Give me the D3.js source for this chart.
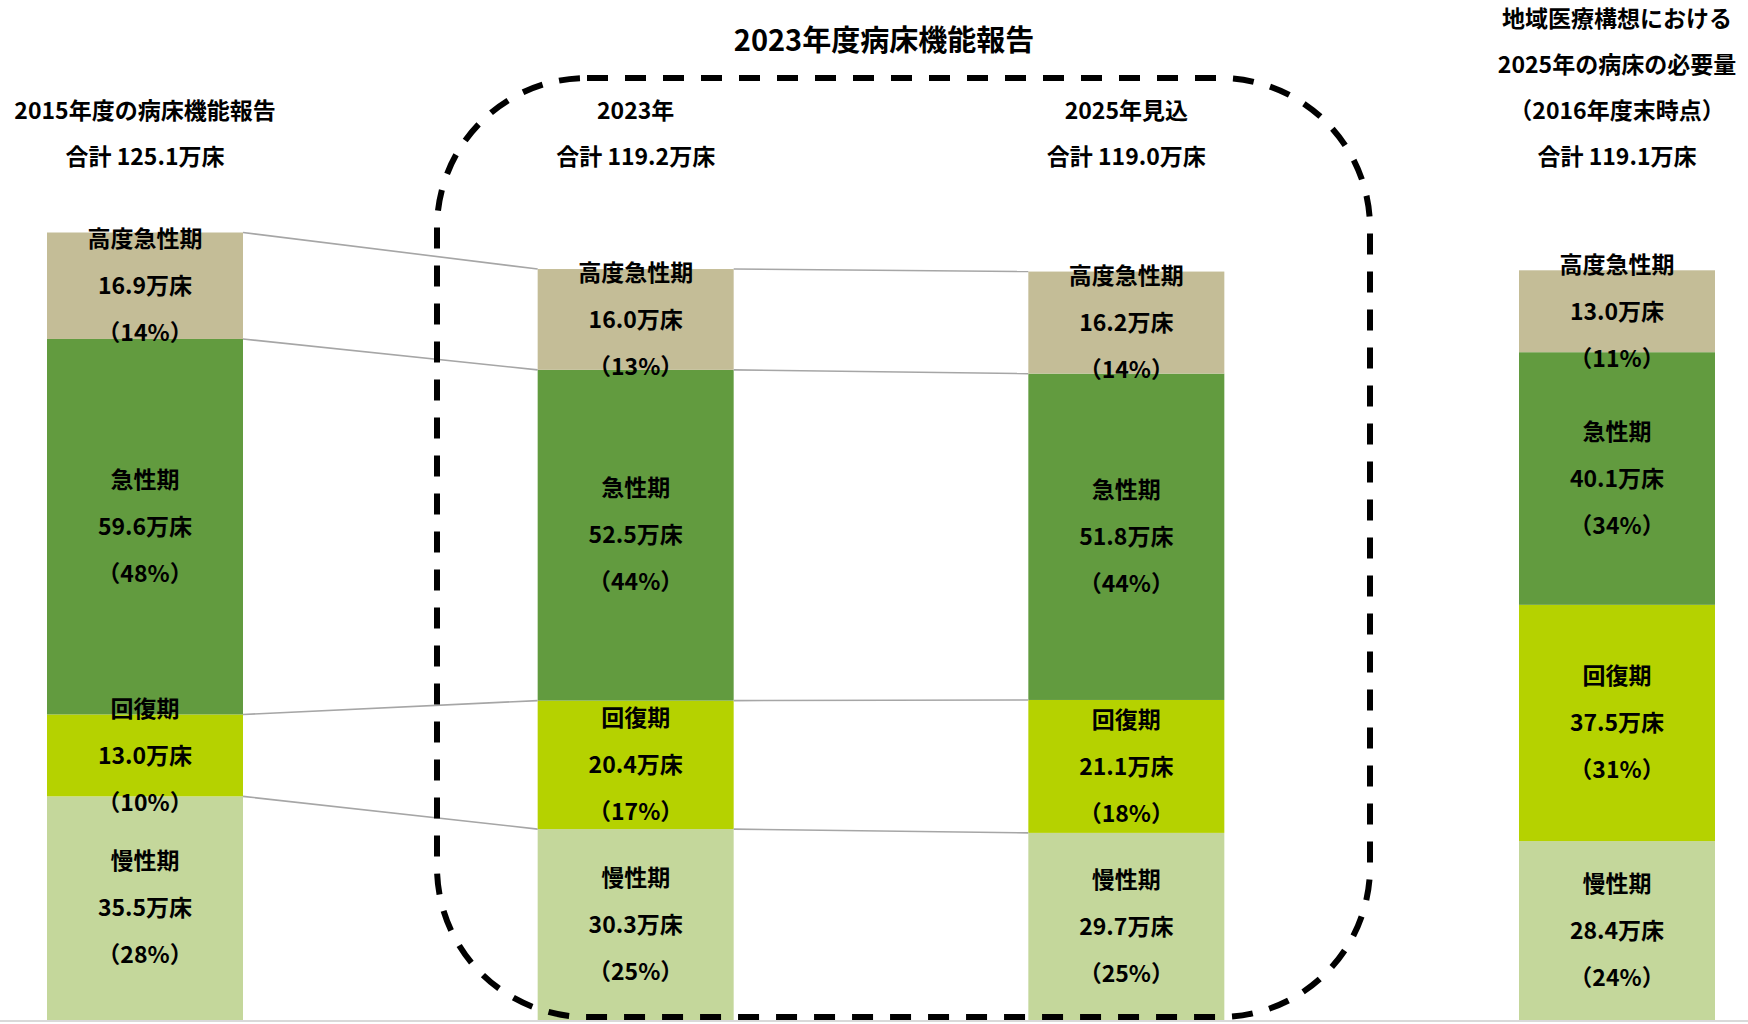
<!DOCTYPE html>
<html><head><meta charset="utf-8">
<script src="https://cdn.jsdelivr.net/npm/d3@7"></script>
<style>
html,body{margin:0;padding:0;background:#fff;}
svg text{font-family:'Noto Sans CJK JP','Noto Sans',sans-serif;font-weight:bold;fill:#000;}
</style></head>
<body><svg id="c" width="1748" height="1024"></svg>
<script>
const columns = ["2015年度", "2023年", "2025年見込", "2025年必要量"];
const categories = ["高度急性期", "急性期", "回復期", "慢性期"];
const highAcute = [16.9, 16.0, 16.2, 13.0];
const acute = [59.6, 52.5, 51.8, 40.1];
const recovery = [13.0, 20.4, 21.1, 37.5];
const chronic = [35.5, 30.3, 29.7, 28.4];
const pctHighAcute = [14, 13, 14, 11];
const pctAcute = [48, 44, 44, 34];
const pctRecovery = [10, 17, 18, 31];
const pctChronic = [28, 25, 25, 24];
const headers = [
  ["2015年度の病床機能報告", "合計 125.1万床"],
  ["2023年", "合計 119.2万床"],
  ["2025年見込", "合計 119.0万床"],
  ["地域医療構想における", "2025年の病床の必要量", "（2016年度末時点）", "合計 119.1万床"]
];
const titleText = "2023年度病床機能報告";
const colors = ["#c4bd97", "#629b3f", "#b5d200", "#c4d79b"];

const seriesVals = [highAcute, acute, recovery, chronic];
const seriesPct = [pctHighAcute, pctAcute, pctRecovery, pctChronic];

const table = columns.map((c, i) => {
  const o = {col: c};
  categories.forEach((k, j) => o[k] = seriesVals[j][i]);
  return o;
});
const stack = d3.stack().keys(categories.slice().reverse());
const stacked = stack(table);

const svg = d3.select("#c");
const x = d3.scalePoint().domain(columns).range([145, 1617]);
const y = d3.scaleLinear().domain([0, 125]).range([1020, 232.5]);
const bw = 196;

// baseline
svg.append("line").attr("x1", 0).attr("x2", 1748).attr("y1", 1021).attr("y2", 1021)
  .attr("stroke", "#d9d9d9").attr("stroke-width", 2);

// bars
stacked.forEach(s => {
  const ci = categories.indexOf(s.key);
  svg.append("g").selectAll("rect").data(s).join("rect")
    .attr("x", d => x(d.data.col) - bw / 2)
    .attr("width", bw)
    .attr("y", d => y(d[1]))
    .attr("height", d => y(d[0]) - y(d[1]))
    .attr("fill", colors[ci]);
});

// connector lines between first three columns
const conn = svg.append("g");
for (let i = 0; i < 2; i++) {
  stacked.forEach(s => {
    const a = s[i], b = s[i + 1];
    conn.append("line")
      .attr("x1", x(columns[i]) + bw / 2).attr("y1", y(a[1]))
      .attr("x2", x(columns[i + 1]) - bw / 2).attr("y2", y(b[1]))
      .attr("stroke", "#a6a6a6").attr("stroke-width", 1.6);
  });
}

// dashed rounded box
svg.append("rect").attr("x", 437).attr("y", 78).attr("width", 933).attr("height", 939)
  .attr("rx", 150).attr("ry", 150)
  .attr("fill", "none").attr("stroke", "#000").attr("stroke-width", 6)
  .attr("stroke-dasharray", "21 17");

// segment labels
stacked.forEach(s => {
  const ci = categories.indexOf(s.key);
  s.forEach((d, i) => {
    const cy = (y(d[0]) + y(d[1])) / 2;
    const lines = [s.key, seriesVals[ci][i].toFixed(1) + "万床", "（" + seriesPct[ci][i] + "%）"];
    lines.forEach((t, k) => {
      svg.append("text").attr("x", x(columns[i])).attr("y", cy + (k - 1) * 47)
        .attr("dy", "0.36em").attr("text-anchor", "middle")
        .attr("font-size", 23).text(t);
    });
  });
});

// headers
headers.forEach((h, i) => {
  h.forEach((t, k) => {
    svg.append("text").attr("x", x(columns[i]))
      .attr("y", 157 - (h.length - 1 - k) * 46)
      .attr("dy", "0.36em").attr("text-anchor", "middle")
      .attr("font-size", 23).text(t);
  });
});

// title
svg.append("text").attr("x", 884).attr("y", 41).attr("dy", "0.36em")
  .attr("text-anchor", "middle").attr("font-size", 29).text(titleText);
</script></body></html>
